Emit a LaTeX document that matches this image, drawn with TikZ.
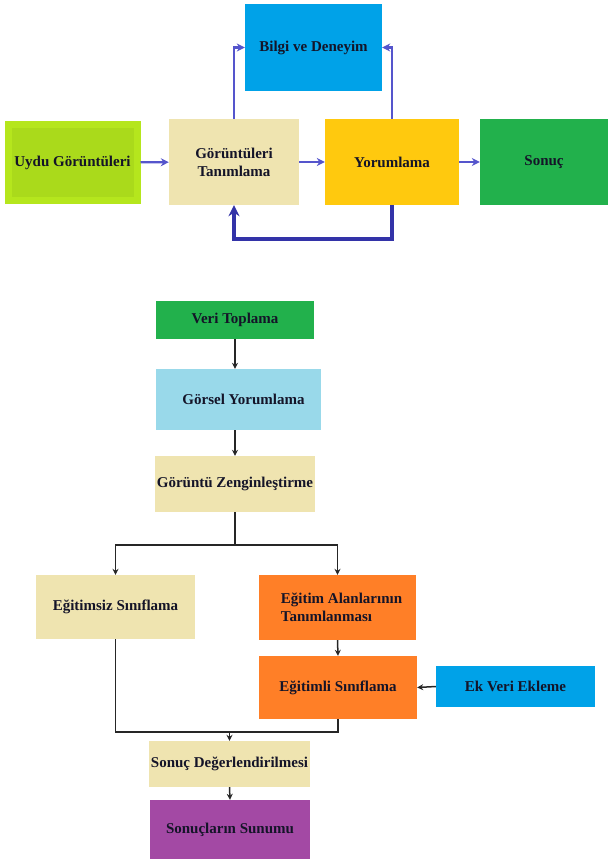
\documentclass[tikz,border=0pt]{standalone}
\usepackage{fontspec}
\setmainfont{Liberation Serif}
\usepackage{tikz}
\usetikzlibrary{arrows.meta}

\definecolor{uyduout}{HTML}{B5E61D}
\definecolor{uyduin}{HTML}{AADA1B}
\definecolor{tanimbg}{HTML}{EFE4B0}
\definecolor{yorumbg}{HTML}{FFC90E}
\definecolor{sonucbg}{HTML}{22B14C}
\definecolor{bilgibg}{HTML}{00A2E8}
\definecolor{gorselbg}{HTML}{99D9EA}
\definecolor{egitimbg}{HTML}{FF7F27}
\definecolor{sunumbg}{HTML}{A349A4}
\definecolor{okmavi}{HTML}{5555CC}
\definecolor{okkoyu}{HTML}{3333A8}
\definecolor{yazi}{HTML}{141428}

\tikzset{
  kutu/.style={rectangle, inner sep=2pt, text=yazi, font=\bfseries\fontsize{15}{18}\selectfont, align=center},
  mavisok/.style={draw=okmavi, line width=2.2pt, -{Stealth[length=8pt,width=8pt]}},
  geridon/.style={draw=okkoyu, line width=3.8pt, -{Stealth[length=11pt,width=11pt]}},
  siyahok/.style={draw=black!85, line width=1.5pt, -{Stealth[length=6pt,width=6pt]}},
  siyahcizgi/.style={draw=black!85, line width=1.5pt}
}

\begin{document}
\begin{tikzpicture}[x=1pt,y=-1pt]
  \useasboundingbox (0,0) rectangle (608,861);

  % ust diyagram
  \node[kutu, fill=uyduin, draw=uyduout, line width=7pt, minimum width=129pt, minimum height=75pt] (uydu) at (72.5,162.5) {Uydu Görüntüleri};
  \node[kutu, fill=tanimbg, minimum width=130pt, minimum height=86pt] (tanim) at (234,162) {Görüntüleri\\Tanımlama};
  \node[kutu, fill=yorumbg, minimum width=134pt, minimum height=86pt] (yorum) at (392,162) {Yorumlama};
  \node[kutu, fill=sonucbg, minimum width=128pt, minimum height=86pt] (sonuc) at (544,162) {Sonuç};
  \node[kutu, fill=bilgibg, minimum width=137pt, minimum height=87pt] (bilgi) at (313.5,47.5) {Bilgi ve Deneyim};

  \draw[mavisok] (uydu) -- (tanim);
  \draw[mavisok] (tanim) -- (yorum);
  \draw[mavisok] (yorum) -- (sonuc);
  \draw[mavisok] (tanim.north) |- (bilgi.west);
  \draw[mavisok] (yorum.north) |- (bilgi.east);
  \draw[geridon] (yorum.south) -- ++(0,34) -| (tanim.south);

  % alt diyagram
  \node[kutu, fill=sonucbg, minimum width=158pt, minimum height=38pt] (veri) at (235,320) {Veri Toplama};
  \node[kutu, fill=gorselbg, minimum width=165pt, minimum height=61pt] (gorsel) at (238.5,399.5) {\hspace*{10pt}Görsel Yorumlama};
  \node[kutu, fill=tanimbg, minimum width=158pt, minimum height=56pt] (zengin) at (235,484) {Görüntü Zenginleştirme};
  \node[kutu, fill=tanimbg, minimum width=159pt, minimum height=64pt] (egitimsiz) at (115.5,607) {Eğitimsiz Sınıflama};
  \node[kutu, fill=egitimbg, minimum width=157pt, minimum height=65pt, align=left] (alan) at (337.5,607.5) {\hspace*{8pt}Eğitim Alanlarının\\\hspace*{8pt}Tanımlanması};
  \node[kutu, fill=egitimbg, minimum width=158pt, minimum height=63pt] (egitimli) at (338,687.5) {Eğitimli Sınıflama};
  \node[kutu, fill=bilgibg, minimum width=159pt, minimum height=41pt] (ek) at (515.5,686.5) {Ek Veri Ekleme};
  \node[kutu, fill=tanimbg, minimum width=159pt, minimum height=46pt] (deger) at (229.5,764) {Sonuç Değerlendirilmesi};
  \node[kutu, fill=sunumbg, minimum width=160pt, minimum height=59pt] (sunum) at (230,829.5) {Sonuçların Sunumu};

  \coordinate (ayrim) at (235,545);
  \coordinate (birlesim) at (229.5,732);

  \draw[siyahok] (veri.south) -- (veri.south |- gorsel.north);
  \draw[siyahok] (zengin.north |- gorsel.south) -- (zengin.north);
  \draw[siyahcizgi] (zengin.south) -- (ayrim);
  \draw[siyahok] (ayrim) -| (egitimsiz.north);
  \draw[siyahok] (ayrim) -| (alan.north);
  \draw[siyahok] (alan.south) -- (egitimli.north);
  \draw[siyahok] (ek.west) -- (egitimli.east);
  \draw[siyahcizgi] (egitimsiz.south) |- (birlesim) -| (egitimli.south);
  \draw[siyahok] (birlesim) -- (deger.north);
  \draw[siyahok] (deger.south) -- (sunum.north);
\end{tikzpicture}
\end{document}
